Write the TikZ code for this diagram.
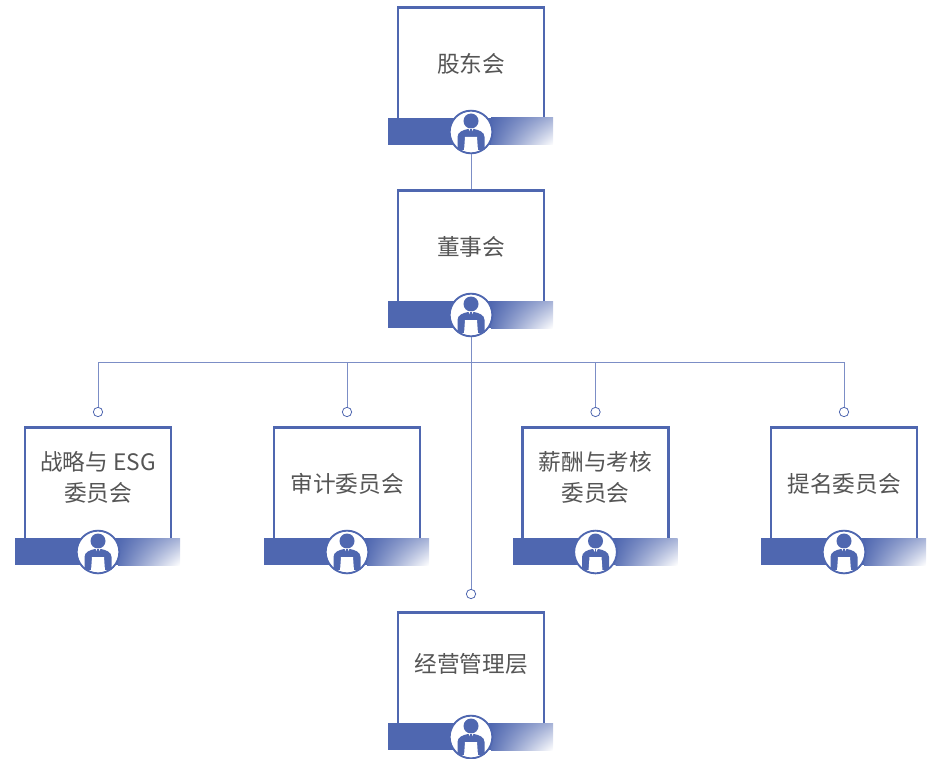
\documentclass[tikz,border=0pt]{standalone}
\usepackage{fontspec}
\setmainfont{Noto Sans CJK SC}
\usetikzlibrary{shadings}
\definecolor{orgblue}{HTML}{4F67B0}
\definecolor{orgline}{HTML}{7C8EC6}
\definecolor{orgtext}{HTML}{555555}
\tikzset{
  orgbox/.style={draw=orgblue,line width=1.6pt,fill=white,minimum width=109.5pt,minimum height=84pt,inner sep=0pt},
  orgtxt/.style={text=orgtext,font=\fontsize{17pt}{23.3pt}\selectfont,align=center,inner sep=0pt},
  orgicon/.style={circle,draw=orgblue,line width=1.4pt,fill=white,minimum size=32pt,inner sep=0pt},
  orgpin/.style={circle,draw=orgblue,line width=.6pt,fill=white,minimum size=7pt,inner sep=0pt},
  orgconn/.style={draw=orgline,line width=.75pt},
}
\begin{document}
\begin{tikzpicture}[x=.75pt,y=-.75pt]
\useasboundingbox (0,0) rectangle (934,759);
\coordinate (bus) at (471,362);
\foreach \name/\x/\y/\dy/\txt in {
  holders/471/62.5/1/{股东会},
  board/471/245.5/1/{董事会},
  strategy/98/482.5/-5/{战略与 ESG\\委员会},
  audit/347/482.5/1/{审计委员会},
  salary/595.5/482.5/-5/{薪酬与考核\\委员会},
  nominate/844/482.5/1/{提名委员会},
  manage/471/667.5/-3.5/{经营管理层}}
{
  % Box with its text
  \node[orgbox] (\name) at (\x,\y+1) {};
  \node[orgtxt] (\name-txt) at (\x,\y+\dy) {\txt};
  % Band under the box, solid on the left and fading on the right
  \fill[orgblue] (\x-83,\y+55.5) rectangle (\x+20,\y+82.5);
  \shade[upper left=orgblue,lower left=orgblue!92,upper right=orgblue!50,lower right=white] (\x+20,\y+55.5) rectangle (\x+82,\y+82.5);
  % Person in a ring
  \node[orgicon] (\name-icon) at (\x,\y+69.5) {};
  \begin{scope}[shift={(\x,\y+69.5)}]
    \clip (-19,-19) rectangle (19,17.5);
    \fill[orgblue] (0,-11) circle (7.5);
    \fill[orgblue] (-13.5,19) -- (-13.5,5) .. controls (-13.5,0) and (-8,-2) .. (-3,-3) -- (3,-3) .. controls (8,-2) and (13.5,0) .. (13.5,5) -- (13.5,19) -- cycle;
    \fill[white] (-2.6,-3.4) -- (2.6,-3.4) -- (0,1) -- cycle;
    \fill[orgblue] (-.9,-2.8) rectangle (.9,4);
    \fill[white] (-6,5) -- (6,5) -- (7,19) -- (-7,19) -- cycle;
  \end{scope}
}
% Pins
\node[orgpin] (strategy-pin) at (98,412) {};
\node[orgpin] (audit-pin) at (347,412) {};
\node[orgpin] (salary-pin) at (595.5,412) {};
\node[orgpin] (nominate-pin) at (844,412) {};
\node[orgpin] (manage-pin) at (471,594) {};
% Lines between them
\draw[orgconn] (holders-icon) -- (board);
\draw[orgconn] (board-icon) -- (manage-pin);
\draw[orgconn] (bus) -| (strategy-pin);
\draw[orgconn] (bus) -| (audit-pin);
\draw[orgconn] (bus) -| (salary-pin);
\draw[orgconn] (bus) -| (nominate-pin);
\end{tikzpicture}
\end{document}
